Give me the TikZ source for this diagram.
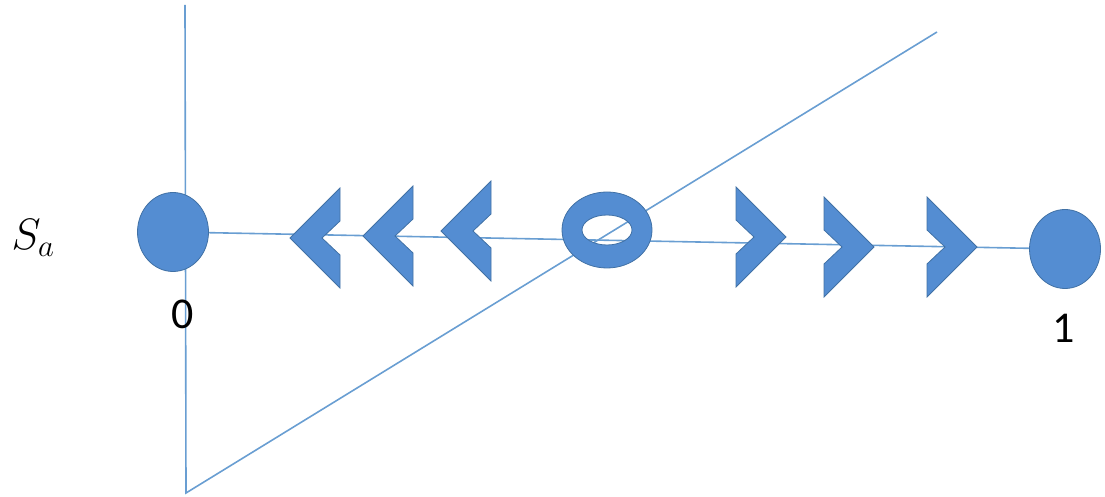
\RequirePackage{fix-cm}
\documentclass[tikz,border=0pt]{standalone}
\usepackage{fontspec}
\setmainfont{Carlito}
\usepackage{tikz}
\usetikzlibrary{shapes.geometric, positioning, backgrounds}
\definecolor{shapeblue}{RGB}{84,141,210}
\definecolor{edgeblue}{RGB}{65,113,165}
\definecolor{lineblue}{RGB}{105,158,210}

\begin{document}
\begin{tikzpicture}[
        x=1pt, y=1pt,
        axis/.style={draw=lineblue, line width=1.6pt},
        dot/.style={ellipse, fill=shapeblue, draw=edgeblue, line width=0.8pt,
                    minimum width=71pt, minimum height=79pt, inner sep=0pt},
        ring/.style={fill=shapeblue, draw=edgeblue, line width=0.8pt, even odd rule},
        chev/.pic={\path [fill=shapeblue, draw=edgeblue, line width=0.8pt]
                    (0,50) -- (50,0) -- (0,-50) -- (0,-17) -- (18,0) -- (0,17) -- cycle;},
        lbl/.style={font=\fontsize{44}{48}\selectfont, inner sep=0pt}
    ]
        \useasboundingbox (0,0) rectangle (1105,497);
        \coordinate (top)    at (185,492);
        \coordinate (origin) at (186,4);
        \coordinate (far)    at (937,465);
        \coordinate (mid)    at (607,267);
        \node [dot] (zero) at (173,265) {};
        \node [dot] (one)  at (1065,248) {};
        \begin{scope}[on background layer]
            \path [axis] (top) -- (origin) -- (far);
            \path [axis] (zero.center) -- (one.center);
        \end{scope}
        \path [ring] (mid) ellipse [x radius=45, y radius=38]
                     (mid) ellipse [x radius=25, y radius=15];
        \pic [xscale=-1] at (340,259) {chev};
        \pic [xscale=-1] at (413,261) {chev};
        \pic [xscale=-1] at (491,266) {chev};
        \pic at (736,260) {chev};
        \pic at (824,250) {chev};
        \pic at (927,250) {chev};
        \node [lbl] (sa)      at (33,259)  {$S_a$};
        \node [lbl] (zerolbl) at (183,183) {0};
        \node [lbl] (onelbl)  at (1064,169) {1};
    \end{tikzpicture}
\end{document}
